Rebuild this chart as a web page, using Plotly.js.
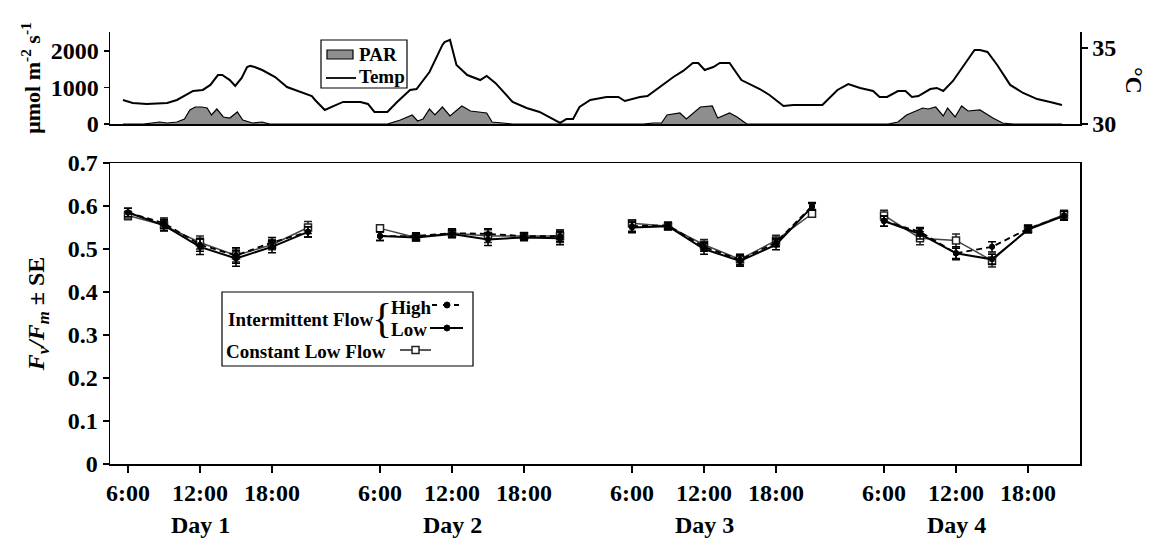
<!DOCTYPE html>
<html>
<head>
<meta charset="utf-8">
<script src="https://cdn.plot.ly/plotly-3.0.1.min.js"></script>
<style>html,body{margin:0;padding:0;background:#fff;}#chart{width:1154px;height:540px;}</style>
</head>
<body>
<div id="chart"></div>
<script>
// ---------- Data ----------
// Fv/Fm sampling times (hour of day) and day labels
const hours = [6, 9, 12, 15, 18, 21];
const dayLabels = ['Day 1', 'Day 2', 'Day 3', 'Day 4'];
const tickHours = [6, 12, 18];
const tickLabels = ['6:00', '12:00', '18:00'];

// Intermittent flow - High (dashed, filled circle); 6 values per day, Day 1..4
const highMean = [0.585, 0.560, 0.510, 0.485, 0.515, 0.540,
                  0.530, 0.530, 0.537, 0.535, 0.530, 0.530,
                  0.553, 0.555, 0.505, 0.475, 0.515, 0.600,
                  0.565, 0.540, 0.490, 0.505, 0.547, 0.578];
const highSE   = [0.010, 0.012, 0.015, 0.018, 0.012, 0.012,
                  0.010, 0.008, 0.010, 0.012, 0.008, 0.012,
                  0.012, 0.008, 0.010, 0.012, 0.010, 0.008,
                  0.012, 0.010, 0.012, 0.012, 0.008, 0.010];
// Intermittent flow - Low (solid, filled circle)
const lowMean  = [0.585, 0.555, 0.505, 0.478, 0.505, 0.540,
                  0.530, 0.527, 0.535, 0.522, 0.527, 0.525,
                  0.550, 0.553, 0.500, 0.472, 0.510, 0.598,
                  0.565, 0.535, 0.490, 0.476, 0.545, 0.577];
const lowSE    = [0.010, 0.013, 0.018, 0.018, 0.014, 0.012,
                  0.010, 0.008, 0.008, 0.014, 0.008, 0.015,
                  0.012, 0.008, 0.012, 0.012, 0.012, 0.008,
                  0.012, 0.012, 0.015, 0.012, 0.008, 0.010];
// Constant low flow (open square)
const constMean = [0.578, 0.555, 0.515, 0.485, 0.510, 0.550,
                   0.548, 0.527, 0.537, 0.530, 0.530, 0.530,
                   0.560, 0.553, 0.510, 0.476, 0.520, 0.582,
                   0.578, 0.525, 0.520, 0.473, 0.547, 0.580];
const constSE   = [0.010, 0.012, 0.015, 0.015, 0.012, 0.014,
                   0.008, 0.008, 0.010, 0.015, 0.008, 0.015,
                   0.008, 0.008, 0.012, 0.012, 0.012, 0.008,
                   0.012, 0.015, 0.015, 0.015, 0.008, 0.010];

// Top panel: hours since first record (Day 1, 6:00)
const tempHour = [0.0,0.9,2.2,3.4,4.1,5.0,5.9,6.5,7.4,8.1,8.8,9.2,9.9,10.4,11.0,11.5,11.8,12.2,12.9,14.1,
                  15.2,16.4,17.5,17.8,18.7,19.5,20.4,22.0,22.7,23.3,24.5,25.4,26.6,27.2,28.4,29.6,29.8,30.3,30.9,31.9,
                  33.1,33.7,34.5,36.1,37.4,38.6,40.5,41.1,41.7,42.3,43.3,44.8,45.9,46.5,47.9,48.6,49.5,51.0,51.9,52.8,
                  53.3,53.9,54.7,55.3,56.2,57.3,59.0,59.9,61.2,62.1,64.8,66.2,67.2,68.3,69.5,70.1,70.8,71.8,72.5,73.1,
                  73.7,74.8,75.4,76.0,76.9,78.2,78.9,79.4,80.1,81.0,82.2,83.4,84.7,85.9,87.0];
const tempC    = [31.58,31.38,31.32,31.38,31.38,31.58,31.91,32.17,32.24,32.57,33.22,33.22,32.89,32.50,33.03,33.75,33.82,33.75,33.55,33.09,
                  32.43,32.11,31.84,31.58,30.92,31.18,31.45,31.45,31.32,30.79,30.79,31.45,32.24,32.30,33.42,35.20,35.39,35.53,33.88,33.22,
                  32.89,33.16,32.70,31.45,31.05,30.79,30.07,30.33,30.33,31.12,31.58,31.78,31.78,31.51,31.78,31.84,32.30,33.09,33.49,34.01,
                  34.01,33.55,33.75,34.01,34.01,32.89,32.30,31.91,31.18,31.25,31.25,32.24,32.63,32.37,32.17,31.78,31.78,32.17,32.17,31.78,
                  31.84,32.30,32.37,32.17,32.83,34.21,34.87,34.87,34.74,33.88,32.57,32.04,31.64,31.45,31.25];
const parHour  = [0,1.9,3.4,4.1,5.0,5.7,6.2,6.7,7.3,7.8,8.2,8.7,9.3,9.9,10.6,11.1,12.0,12.9,13.6,
                  24.5,25.7,26.8,27.3,27.8,28.4,28.9,29.6,30.3,31.4,32.2,33.7,34.2,35.2,36.1,
                  48.2,49.1,49.9,50.4,51.6,52.2,53.5,54.6,55.1,56.2,56.9,57.8,
                  70.9,71.8,72.6,73.2,74.1,74.6,75.3,76.0,76.4,77.1,77.7,78.3,79.4,80.6,81.5,82.5,87.0];
const parVal   = [0,0,55,27,55,137,384,466,466,438,247,411,192,164,329,110,27,55,0,
                  0,110,247,82,137,411,247,466,219,493,356,301,55,27,0,
                  0,27,27,247,301,137,466,493,164,301,192,0,
                  0,55,247,329,438,411,466,219,438,192,493,356,384,164,27,0,0];

// ---------- Helpers ----------
const DAY_SPAN = 21; // axis units between day blocks
const FONT = 'Liberation Serif, Times New Roman, serif';

function dayX() {
  const out = [];
  dayLabels.forEach((_, d) => { hours.forEach(h => out.push(h + d * DAY_SPAN)); out.push(null); });
  return out;
}
function gapped(arr) {
  const out = [];
  dayLabels.forEach((_, d) => { for (let i = 0; i < hours.length; i++) out.push(arr[d * hours.length + i]); out.push(null); });
  return out;
}
const xMain = dayX();

const tickvals = [], ticktext = [];
dayLabels.forEach((_, d) => tickHours.forEach((h, i) => { tickvals.push(h + d * DAY_SPAN); ticktext.push(tickLabels[i]); }));

// ---------- Traces ----------
const traces = [
  { x: parHour, y: parVal, xaxis: 'x2', yaxis: 'y2', type: 'scatter', mode: 'lines', fill: 'tozeroy',
    fillcolor: '#8e8e8e', line: { color: '#000', width: 1.2 }, name: 'PAR', showlegend: false },
  { x: tempHour, y: tempC, xaxis: 'x2', yaxis: 'y3', type: 'scatter', mode: 'lines',
    line: { color: '#000', width: 2 }, name: 'Temp', showlegend: false },
  { x: xMain, y: gapped(constMean), type: 'scatter', mode: 'lines+markers', name: 'Constant Low Flow',
    line: { color: '#444', width: 1.5 }, marker: { symbol: 'square', size: 7, color: '#fff', line: { color: '#222', width: 1.5 } },
    error_y: { type: 'data', array: gapped(constSE), width: 4, thickness: 1.5, color: '#222' }, showlegend: false },
  { x: xMain, y: gapped(lowMean), type: 'scatter', mode: 'lines+markers', name: 'Intermittent Flow Low',
    line: { color: '#000', width: 2 }, marker: { symbol: 'circle', size: 6, color: '#000' },
    error_y: { type: 'data', array: gapped(lowSE), width: 4, thickness: 1.5, color: '#000' }, showlegend: false },
  { x: xMain, y: gapped(highMean), type: 'scatter', mode: 'lines+markers', name: 'Intermittent Flow High',
    line: { color: '#000', width: 1.8, dash: '6px,4px' }, marker: { symbol: 'circle', size: 6, color: '#000' },
    error_y: { type: 'data', array: gapped(highSE), width: 4, thickness: 1.5, color: '#000' }, showlegend: false }
];

// ---------- Layout helpers (pixel -> paper) ----------
const L = 110, R = 1080, T = 32, B = 464;
const px = x => (x - L) / (R - L);
const py = y => (B - y) / (B - T);

const tickFont = { family: FONT, size: 24, weight: 'bold', color: '#000' };
const titleFont = { family: FONT, size: 24, weight: 'bold', color: '#000' };
const legFont = { family: FONT, size: 19, weight: 'bold', color: '#000' };

const shapes = [
  // top legend
  { type: 'rect', xref: 'paper', yref: 'paper', x0: px(321), x1: px(407), y0: py(88), y1: py(40), line: { color: '#000', width: 1.2 }, fillcolor: '#fff' },
  { type: 'rect', xref: 'paper', yref: 'paper', x0: px(327), x1: px(353), y0: py(59), y1: py(50), line: { color: '#000', width: 1.2 }, fillcolor: '#8e8e8e' },
  { type: 'line', xref: 'paper', yref: 'paper', x0: px(326), x1: px(356), y0: py(78), y1: py(78), line: { color: '#000', width: 1.8 } },
  // main legend
  { type: 'rect', xref: 'paper', yref: 'paper', x0: px(222), x1: px(473), y0: py(366), y1: py(292), line: { color: '#000', width: 1.2 }, fillcolor: '#fff' },
  { type: 'line', xref: 'paper', yref: 'paper', x0: px(432), x1: px(463), y0: py(305), y1: py(305), line: { color: '#000', width: 1.8, dash: '5px,6px' } },
  { type: 'circle', xref: 'paper', yref: 'paper', x0: px(444), x1: px(450), y0: py(308), y1: py(302), line: { color: '#000', width: 1 }, fillcolor: '#000' },
  { type: 'line', xref: 'paper', yref: 'paper', x0: px(430), x1: px(463), y0: py(328), y1: py(328), line: { color: '#000', width: 2 } },
  { type: 'circle', xref: 'paper', yref: 'paper', x0: px(444), x1: px(450), y0: py(331), y1: py(325), line: { color: '#000', width: 1 }, fillcolor: '#000' },
  { type: 'line', xref: 'paper', yref: 'paper', x0: px(400), x1: px(431), y0: py(350), y1: py(350), line: { color: '#222', width: 1.5 } },
  { type: 'rect', xref: 'paper', yref: 'paper', x0: px(412), x1: px(419), y0: py(353.5), y1: py(346.5), line: { color: '#222', width: 1.5 }, fillcolor: '#fff' }
];

const annotations = [
  { xref: 'paper', yref: 'paper', x: px(357), y: py(54), xanchor: 'left', yanchor: 'middle', text: 'PAR', showarrow: false, font: legFont },
  { xref: 'paper', yref: 'paper', x: px(357), y: py(77), xanchor: 'left', yanchor: 'middle', text: 'Temp', showarrow: false, font: legFont },
  { xref: 'paper', yref: 'paper', x: px(226), y: py(319), xanchor: 'left', yanchor: 'middle', text: 'Intermittent Flow', showarrow: false, font: legFont },
  { xref: 'paper', yref: 'paper', x: px(382), y: py(318), xanchor: 'center', yanchor: 'middle', text: '{', showarrow: false, font: { family: FONT, size: 42, color: '#000' } },
  { xref: 'paper', yref: 'paper', x: px(389), y: py(307), xanchor: 'left', yanchor: 'middle', text: 'High', showarrow: false, font: legFont },
  { xref: 'paper', yref: 'paper', x: px(389), y: py(329), xanchor: 'left', yanchor: 'middle', text: 'Low', showarrow: false, font: legFont },
  { xref: 'paper', yref: 'paper', x: px(224), y: py(351), xanchor: 'left', yanchor: 'middle', text: 'Constant Low Flow', showarrow: false, font: legFont },
  { xref: 'paper', yref: 'paper', x: px(1134), y: py(80), xanchor: 'center', yanchor: 'middle', text: '°C', textangle: 90, showarrow: false, font: titleFont }
];
dayLabels.forEach((lab, d) => annotations.push({
  xref: 'x', yref: 'paper', x: 12 + d * DAY_SPAN, y: py(525), xanchor: 'center', yanchor: 'middle',
  text: lab, showarrow: false, font: tickFont
}));

const layout = {
  width: 1154, height: 540,
  margin: { l: L, r: 1154 - R, t: T, b: 540 - B },
  paper_bgcolor: '#fff', plot_bgcolor: '#fff',
  showlegend: false,
  font: { family: FONT, color: '#000' },
  xaxis: {
    domain: [0, 1], anchor: 'y', range: [4.5, 85.33],
    tickmode: 'array', tickvals: tickvals, ticktext: ticktext,
    ticks: 'outside', ticklen: 7, tickwidth: 1.5, tickcolor: '#000',
    showline: true, linewidth: 1.5, linecolor: '#000', mirror: true,
    showgrid: false, zeroline: false, tickfont: tickFont
  },
  yaxis: {
    domain: [0, py(163)], anchor: 'x', range: [0, 0.7], dtick: 0.1, tick0: 0,
    ticks: 'outside', ticklen: 6, tickwidth: 1.5, tickcolor: '#000',
    showline: true, linewidth: 1.5, linecolor: '#000', mirror: true,
    showgrid: false, zeroline: false, tickfont: tickFont,
    title: { text: '<i>F</i><sub><i>v</i></sub><i>/F</i><sub><i>m</i></sub> ± SE', standoff: 16, font: titleFont }
  },
  xaxis2: {
    domain: [0, 1], anchor: 'y2', range: [-1.2, 88.67],
    showline: true, linewidth: 1.5, linecolor: '#000', ticks: '', showticklabels: false,
    showgrid: false, zeroline: false
  },
  yaxis2: {
    domain: [py(124), 1], anchor: 'x2', range: [0, 2520],
    tickmode: 'array', tickvals: [0, 1000, 2000],
    ticks: 'outside', ticklen: 5, tickwidth: 1.5, tickcolor: '#000',
    showline: true, linewidth: 1.5, linecolor: '#000',
    showgrid: false, zeroline: false, tickfont: tickFont,
    title: { text: 'μmol m<sup>-2</sup> s<sup>-1</sup>', standoff: 4,
             font: { family: FONT, size: 22, weight: 'bold', color: '#000' } }
  },
  yaxis3: {
    overlaying: 'y2', side: 'right', anchor: 'x2', range: [30, 36.05],
    tickmode: 'array', tickvals: [30, 35],
    ticks: 'outside', ticklen: 6, tickwidth: 1.5, tickcolor: '#000',
    showline: true, linewidth: 1.5, linecolor: '#000',
    showgrid: false, zeroline: false, tickfont: tickFont
  },
  shapes: shapes,
  annotations: annotations
};

Plotly.newPlot('chart', traces, layout, { displayModeBar: false, staticPlot: true });
</script>
</body>
</html>
